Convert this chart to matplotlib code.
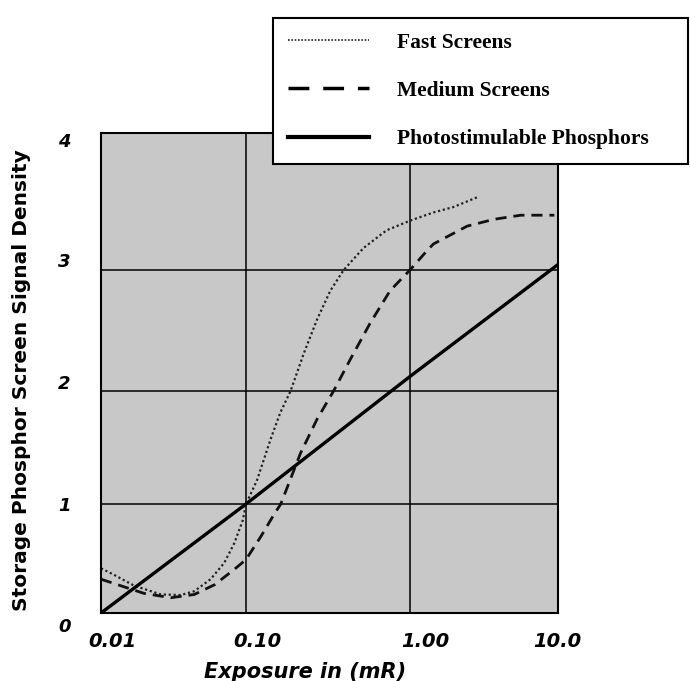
import matplotlib
matplotlib.use("Agg")
import numpy as np
import matplotlib.pyplot as plt
import matplotlib.transforms as mtransforms
from matplotlib.lines import Line2D

# ---- data ----
fast_x = [0.01, 0.0123, 0.017, 0.0259, 0.0356, 0.044, 0.057, 0.0708, 0.083, 0.095, 0.1,
          0.1167, 0.141, 0.162, 0.187, 0.225, 0.271, 0.327, 0.394, 0.52, 0.72, 1.0,
          1.44, 1.97, 2.83]
fast_y = [0.41, 0.35, 0.25, 0.17, 0.165, 0.20, 0.31, 0.46, 0.64, 0.85, 1.0,
          1.21, 1.57, 1.81, 2.0, 2.31, 2.59, 2.83, 3.0, 3.16, 3.29, 3.36,
          3.42, 3.46, 3.53]

medium_x = [0.01, 0.0137, 0.0198, 0.0303, 0.044, 0.0608, 0.083, 0.1, 0.123, 0.149, 0.163,
            0.215, 0.271, 0.342, 0.432, 0.571, 0.757, 1.0, 1.3, 1.44, 2.43, 3.69, 5.6, 9.45]
medium_y = [0.31, 0.25, 0.18, 0.14, 0.17, 0.26, 0.40, 0.49, 0.70, 0.91, 1.0,
            1.45, 1.75, 2.0, 2.26, 2.56, 2.83, 3.0, 3.14, 3.19, 3.32, 3.37, 3.40, 3.40]

photo_x = [0.01, 0.1, 1.0, 10.0]
photo_y = [0.0, 1.0, 2.12, 3.04]

series_labels = ["Fast Screens", "Medium Screens", "Photostimulable Phosphors"]
x_ticks = [0.01, 0.1, 1.0, 10.0]
x_tick_labels = ["0.01", "0.10", "1.00", "10.0"]
y_ticks = [0, 1, 2, 3, 4]
y_tick_labels = ["0", "1", "2", "3", "4"]
x_label = "Exposure in (mR)"
y_label = "Storage Phosphor Screen Signal Density"

# ---- scanned-chart axis geometry (decade / unit positions in px) ----
XDEC = [-2, -1, 0, 1]
XPIX = [0, 145, 309, 457]
YVAL = [0, 1, 2, 3, 4]
YPIX = [0, 109, 222, 343, 480]


def xfwd(x):
    x = np.clip(np.asarray(x, dtype=float), 1e-12, None)
    return np.interp(np.log10(x), XDEC, XPIX, left=-1e9, right=1e9) if False else \
        np.interp(np.log10(x), XDEC, XPIX)


def xinv(v):
    return 10 ** np.interp(np.asarray(v, dtype=float), XPIX, XDEC)


def yfwd(y):
    return np.interp(np.asarray(y, dtype=float), YVAL, YPIX)


def yinv(v):
    return np.interp(np.asarray(v, dtype=float), YPIX, YVAL)


# ---- figure ----
W, H = 690, 681
fig = plt.figure(figsize=(W / 100, H / 100), dpi=100, facecolor="white")
ax = fig.add_axes([101 / W, (H - 613) / H, 457 / W, 480 / H])
ax.set_facecolor("#c8c8c8")
ax.set_xscale("function", functions=(xfwd, xinv))
ax.set_yscale("function", functions=(yfwd, yinv))
ax.set_xlim(0.01, 10.0)
ax.set_ylim(0, 4)

ax.set_xticks(x_ticks)
ax.set_xticklabels(x_tick_labels)
ax.set_yticks(y_ticks)
ax.set_yticklabels(y_tick_labels)
ax.minorticks_off()
ax.tick_params(axis="both", length=0)
ax.tick_params(axis="x", pad=14)
ax.tick_params(axis="y", pad=22)
for lab in ax.get_xticklabels():
    lab.set_fontweight("bold")
    lab.set_fontstyle("italic")
    lab.set_fontsize(14)
    lab.set_family("DejaVu Sans")
for lab in ax.get_yticklabels():
    lab.set_fontweight("bold")
    lab.set_fontstyle("italic")
    lab.set_fontsize(13)
    lab.set_family("DejaVu Sans")

# shift tick labels like the reference scan
xoffs = [11, 11, 15, -1]
for lab, dx in zip(ax.get_xticklabels(), xoffs):
    lab.set_transform(lab.get_transform() + mtransforms.ScaledTranslation(dx / 100, 0, fig.dpi_scale_trans))
yoffs = [-12, 0, 9, 10, -7]
for lab, dy in zip(ax.get_yticklabels(), yoffs):
    lab.set_transform(lab.get_transform() + mtransforms.ScaledTranslation(0, dy / 100, fig.dpi_scale_trans))

ax.grid(True, which="major", color="black", linewidth=1.1)
ax.set_axisbelow(True)
for sp in ax.spines.values():
    sp.set_color("black")
    sp.set_linewidth(1.5)

ax.plot(fast_x, fast_y, color="#222222", linewidth=1.6, linestyle=(0, (1, 1.2)))
ax.plot(medium_x, medium_y, color="#111111", linewidth=2.0, linestyle=(0, (4, 2.5)))
ax.plot(photo_x, photo_y, color="black", linewidth=2.4, solid_capstyle="butt")

fig.text(305 / W, 1 - 672 / H, x_label, ha="center", va="center",
         fontsize=15, fontweight="bold", fontstyle="italic", family="DejaVu Sans")
fig.text(22 / W, 1 - 380 / H, y_label, ha="center", va="center", rotation=90,
         fontsize=14.5, fontweight="bold", family="DejaVu Sans")

# legend
h1 = Line2D([], [], color="#222222", linewidth=1.2, linestyle=(0, (1, 1)))
h2 = Line2D([], [], color="black", linewidth=2.5, linestyle=(0, (6, 4)))
h3 = Line2D([], [], color="black", linewidth=3.0)
leg = fig.legend([h1, h2, h3], series_labels, loc="upper left",
                 bbox_to_anchor=(273 / W, 1 - 163 / H, (688 - 273) / W, 145 / H),
                 mode="expand", borderaxespad=0, frameon=True, fancybox=False,
                 framealpha=1, edgecolor="black", facecolor="white",
                 handlelength=3.8, handletextpad=1.26, borderpad=0.68, labelspacing=1.31,
                 prop={"family": "Liberation Serif", "weight": "bold", "size": 15.5})
leg.get_frame().set_linewidth(1.5)
leg.set_zorder(10)

fig.savefig("out.png", dpi=100, facecolor="white")
